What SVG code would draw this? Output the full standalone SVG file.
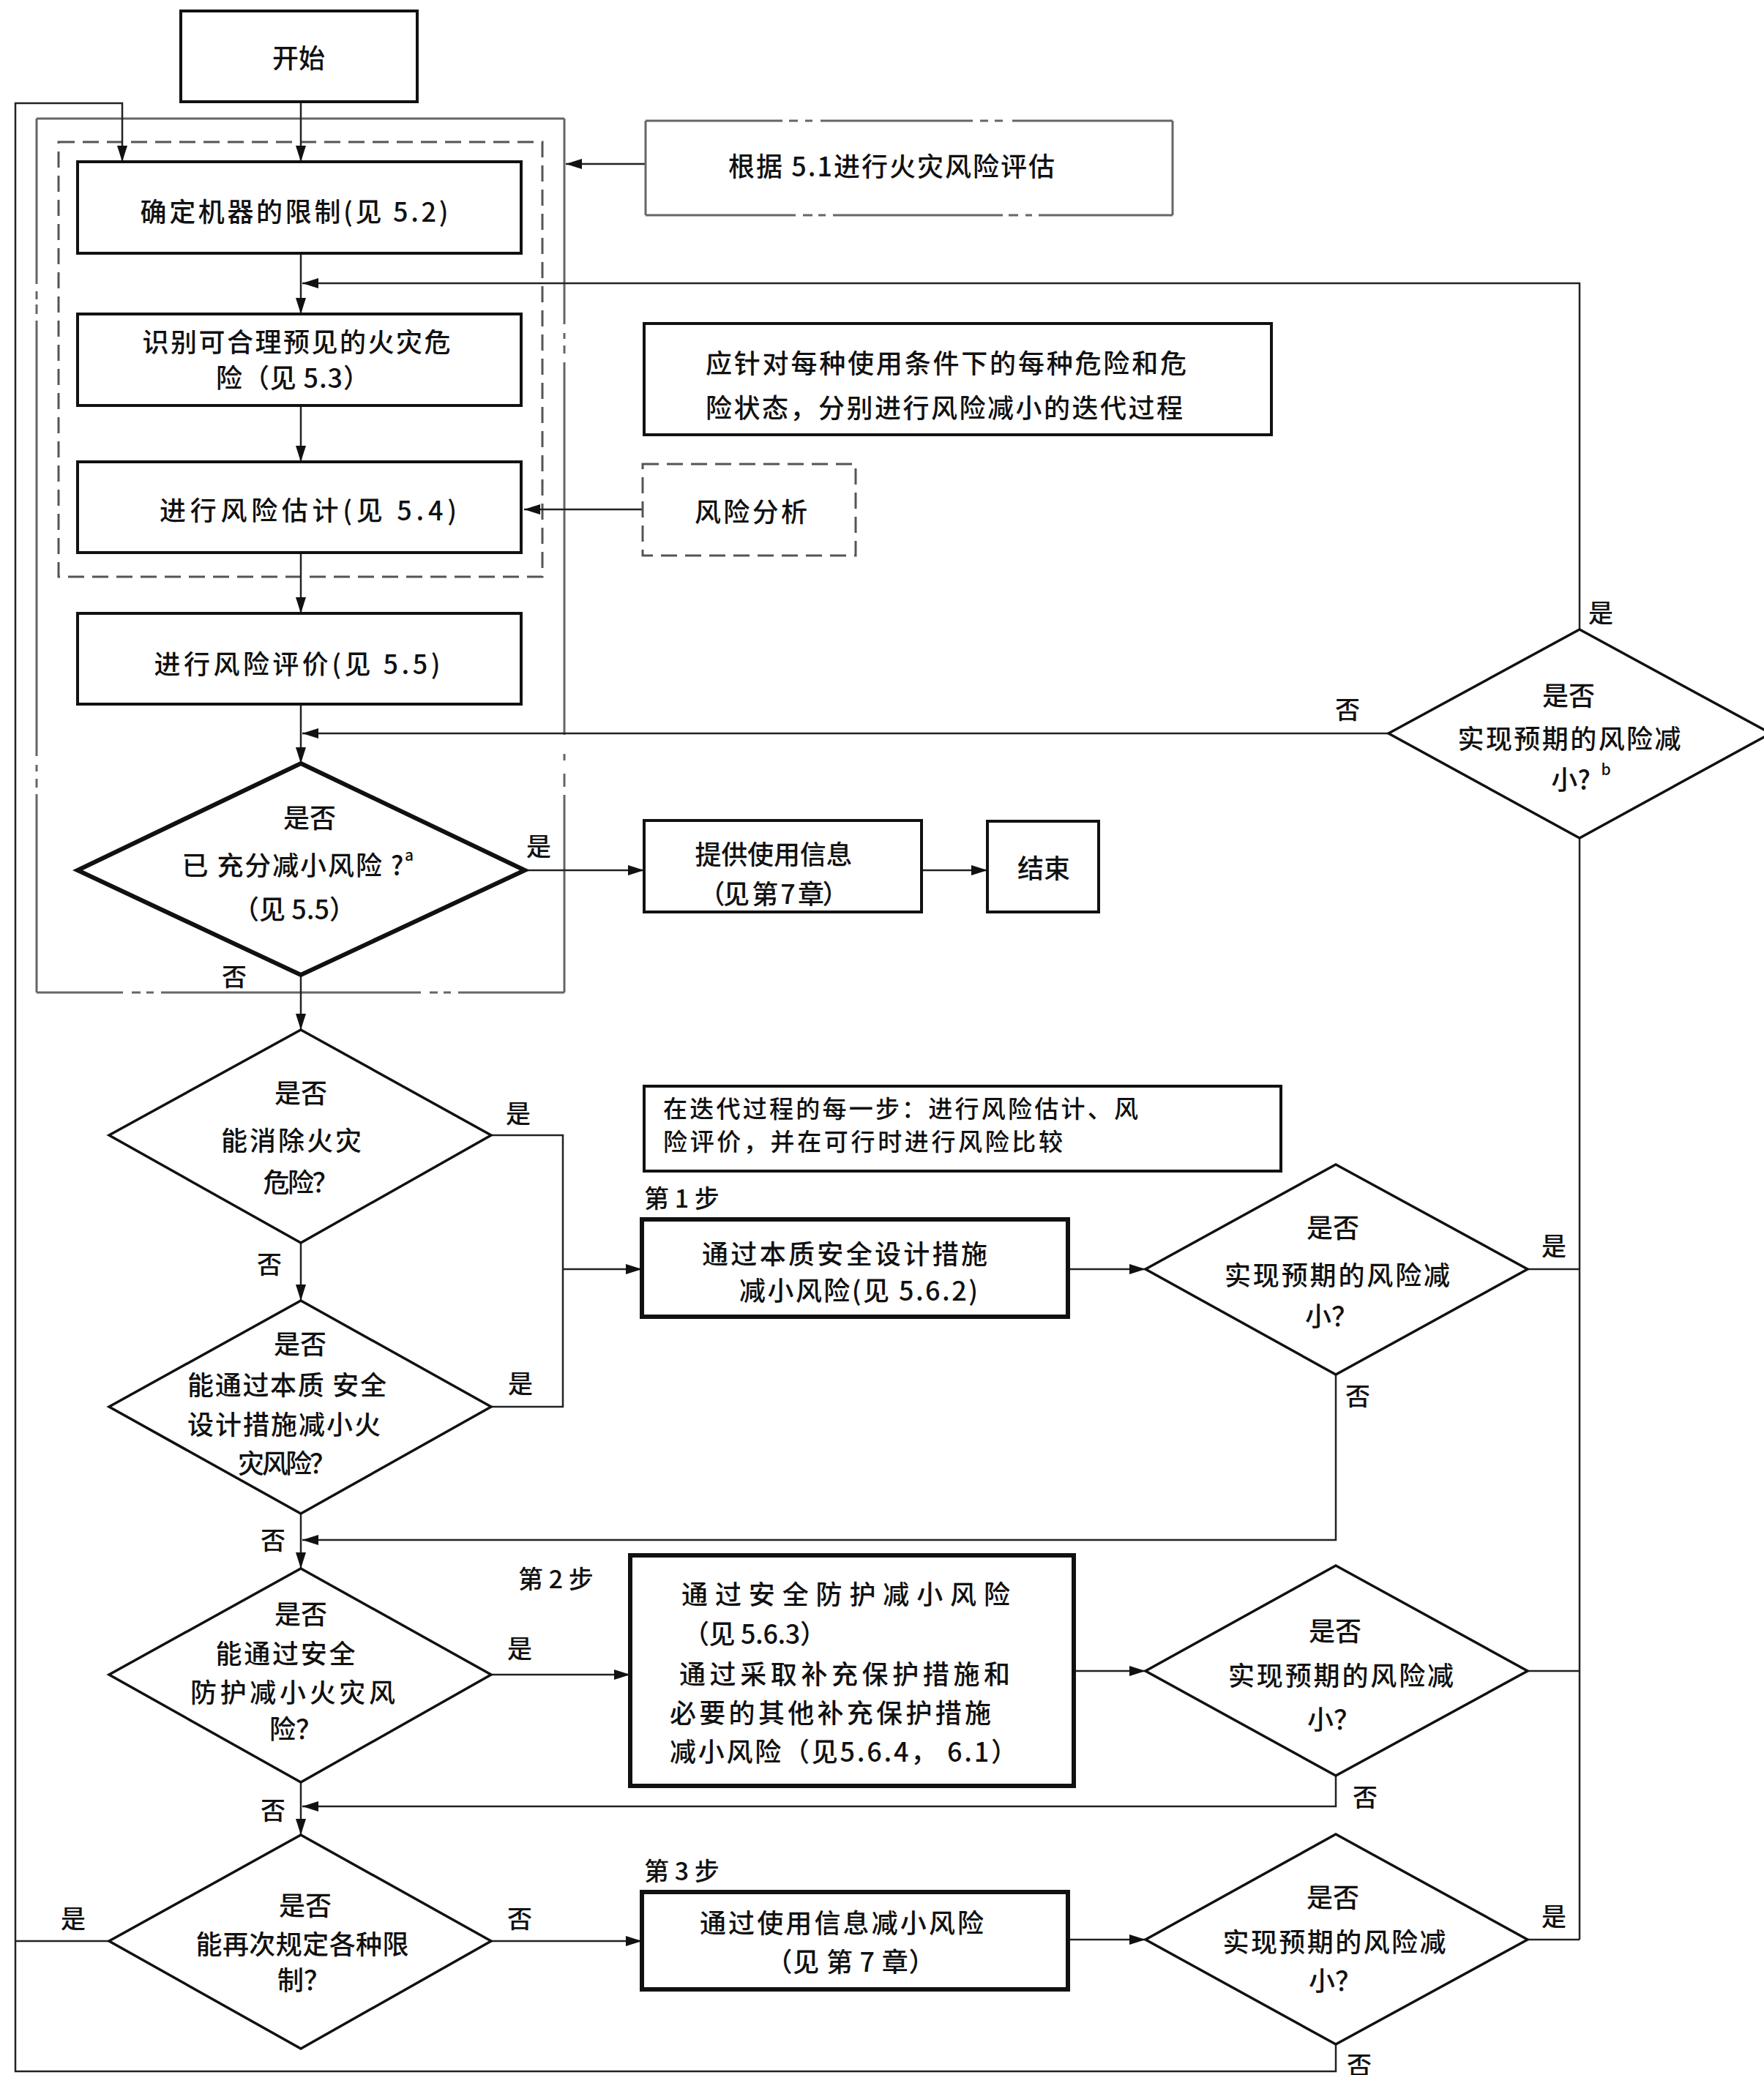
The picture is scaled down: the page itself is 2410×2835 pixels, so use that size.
<svg xmlns="http://www.w3.org/2000/svg" width="2410" height="2835" viewBox="0 0 2410 2835">
<style>
.t{font-family:"Noto Sans CJK SC","Liberation Sans",sans-serif;font-size:36px;font-weight:500;fill:#111;text-anchor:middle;dominant-baseline:central}
.s{text-anchor:start}
.l{font-size:34px}
.n{font-size:33px}
.sup{font-size:21px}
.box{fill:#fff;stroke:#111;stroke-width:4}
.thick{stroke-width:6}
.thin{stroke-width:3.5}
.conn{fill:none;stroke:#222;stroke-width:2.5}
.dash{fill:none;stroke:#555;stroke-width:3;stroke-dasharray:22 11}
.ph{fill:none;stroke:#666;stroke-width:3}
</style>
<defs>
<marker id="ah" markerUnits="userSpaceOnUse" markerWidth="24" markerHeight="14" refX="22" refY="7" orient="auto">
<path d="M0,0 L22,7 L0,14 z" fill="#111"/>
</marker>
</defs>
<rect width="2410" height="2835" fill="#fff"/>

<g id="frames">
<path class="ph" d="M50 162 H771 M50 162 V388 M50 398 V409 M50 416 V429 M50 438 V1033 M50 1045 V1054 M50 1064 V1076 M50 1085 V1356 M771 162 V443 M771 455 V463 M771 472 V483 M771 495 V1004 M771 1030 V1039 M771 1057 V1075 M771 1086 V1356 M50 1356 H168 M180 1356 H192 M200 1356 H210 M220 1356 H575 M587 1356 H598 M606 1356 H616 M626 1356 H771"/>
<rect class="dash" x="80" y="194" width="661" height="594"/>
</g>

<g id="connectors">
<path class="conn" d="M411 139 V221" marker-end="url(#ah)"/>
<path class="conn" d="M1825 2793 V2830 H21 V141 H167 V221" marker-end="url(#ah)"/>
<path class="conn" d="M149 2652 H21"/>
<path class="conn" d="M411 346 V429" marker-end="url(#ah)"/>
<path class="conn" d="M2158 860 V387 H413" marker-end="url(#ah)"/>
<path class="conn" d="M411 554 V631" marker-end="url(#ah)"/>
<path class="conn" d="M878 696 H716" marker-end="url(#ah)"/>
<path class="conn" d="M882 224 H773" marker-end="url(#ah)"/>
<path class="conn" d="M411 755 V838" marker-end="url(#ah)"/>
<path class="conn" d="M411 962 V1043" marker-end="url(#ah)"/>
<path class="conn" d="M1897 1002 H413" marker-end="url(#ah)"/>
<path class="conn" d="M717 1189 H880" marker-end="url(#ah)"/>
<path class="conn" d="M1259 1189 H1349" marker-end="url(#ah)"/>
<path class="conn" d="M411 1332 V1407" marker-end="url(#ah)"/>
<path class="conn" d="M671 1551 H769 V1922 H671"/>
<path class="conn" d="M769 1734 H877" marker-end="url(#ah)"/>
<path class="conn" d="M411 1698 V1777" marker-end="url(#ah)"/>
<path class="conn" d="M1459 1734 H1565" marker-end="url(#ah)"/>
<path class="conn" d="M2087 1734 H2158"/>
<path class="conn" d="M1825 1878 V2104 H413" marker-end="url(#ah)"/>
<path class="conn" d="M411 2068 V2143" marker-end="url(#ah)"/>
<path class="conn" d="M671 2288 H861" marker-end="url(#ah)"/>
<path class="conn" d="M1467 2283 H1565" marker-end="url(#ah)"/>
<path class="conn" d="M2087 2283 H2158"/>
<path class="conn" d="M1825 2426 V2468 H413" marker-end="url(#ah)"/>
<path class="conn" d="M411 2435 V2507" marker-end="url(#ah)"/>
<path class="conn" d="M671 2652 H877" marker-end="url(#ah)"/>
<path class="conn" d="M1459 2650 H1565" marker-end="url(#ah)"/>
<path class="conn" d="M2087 2650 H2158"/>
<path class="conn" d="M2158 1145 V2650"/>
</g>

<g id="labels">
<text class="t l" x="736" y="1154">是</text>
<text class="t l" x="320" y="1332">否</text>
<text class="t l" x="708" y="1519">是</text>
<text class="t l" x="368" y="1725">否</text>
<text class="t l" x="711" y="1888">是</text>
<text class="t l" x="373" y="2102">否</text>
<text class="t l s" x="708" y="2155">第 2 步</text>
<text class="t l" x="710" y="2250">是</text>
<text class="t l" x="373" y="2471">否</text>
<text class="t l" x="100" y="2619">是</text>
<text class="t l" x="710" y="2619">否</text>
<text class="t l s" x="880" y="1635">第 1 步</text>
<text class="t l s" x="880" y="2554">第 3 步</text>
<text class="t l" x="2123" y="1700">是</text>
<text class="t l" x="1855" y="1905">否</text>
<text class="t l" x="1865" y="2453">否</text>
<text class="t l" x="2123" y="2616">是</text>
<text class="t l" x="1857" y="2819">否</text>
<text class="t l" x="2187" y="835">是</text>
<text class="t l" x="1841" y="967">否</text>
</g>

<g id="start">
<rect class="box" x="247" y="15" width="323" height="124" stroke-width="4.5"/>
<text class="t" x="408" y="77">开始</text>
</g>

<g id="limits">
<rect class="box" x="106" y="221" width="606" height="125"/>
<text class="t" x="402" y="287" textLength="421">确定机器的限制(见 5.2)</text>
</g>

<g id="identify">
<rect class="box" x="106" y="429" width="606" height="125"/>
<text class="t" x="405" y="465" textLength="421">识别可合理预见的火灾危</text>
<text class="t" x="400" y="514" textLength="210">险（见 5.3）</text>
</g>

<g id="estimate">
<rect class="box" x="106" y="631" width="606" height="124"/>
<text class="t" x="421" y="695" textLength="406">进行风险估计(见 5.4)</text>
</g>

<g id="evaluate">
<rect class="box" x="106" y="838" width="606" height="124"/>
<text class="t" x="406" y="905" textLength="391">进行风险评价(见 5.5)</text>
</g>

<g id="assess51">
<path class="ph" d="M882 165 V294 M1602 165 V294 M882 165 H1069 M1078 165 H1090 M1100 165 H1110 M1121 165 H1329 M1339 165 H1350 M1359 165 H1370 M1383 165 H1602 M882 294 H1087 M1097 294 H1110 M1118 294 H1128 M1138 294 H1370 M1378 294 H1391 M1401 294 H1410 M1419 294 H1602"/>
<text class="t" x="1218" y="225" textLength="446">根据 5.1进行火灾风险评估</text>
</g>

<g id="iterNote">
<rect class="box" x="880" y="442" width="857" height="152" stroke-width="4.5"/>
<text class="t s" x="964" y="494" textLength="657">应针对每种使用条件下的每种危险和危</text>
<text class="t s" x="964" y="555" textLength="652">险状态，分别进行风险减小的迭代过程</text>
</g>

<g id="analysis">
<rect class="dash" x="878" y="634" width="291" height="125"/>
<text class="t" x="1026" y="697" textLength="154">风险分析</text>
</g>

<g id="d1">
<polygon class="box thick" points="411,1043 717,1189 411,1332 106,1189"/>
<text class="t" x="423" y="1115">是否</text>
<text class="t" x="400" y="1180" textLength="303">已 充分减小风险 ?</text>
<text class="t sup" x="559" y="1167">a</text>
<text class="t" x="402" y="1240" textLength="168">（见 5.5）</text>
</g>

<g id="info">
<rect class="box" x="880" y="1121" width="379" height="125"/>
<text class="t" x="1057" y="1165" textLength="215">提供使用信息</text>
<text class="t" x="1057" y="1219" textLength="205">（见 第 7 章）</text>
</g>

<g id="end">
<rect class="box" x="1349" y="1122" width="152" height="124" stroke-width="4.5"/>
<text class="t" x="1426" y="1184">结束</text>
</g>

<g id="dr0">
<polygon class="box thin" points="2158,860 2419,1002 2158,1145 1897,1002"/>
<text class="t" x="2143" y="948">是否</text>
<text class="t" x="2144" y="1007" textLength="305">实现预期的风险减</text>
<text class="t" x="2146" y="1063">小?</text>
<text class="t sup" x="2194" y="1050">b</text>
</g>

<g id="d2">
<polygon class="box thin" points="411,1407 671,1551 411,1698 149,1551"/>
<text class="t" x="411" y="1491">是否</text>
<text class="t" x="398" y="1556" textLength="192">能消除火灾</text>
<text class="t" x="411" y="1613" textLength="103">危险？</text>
</g>

<g id="stepNote">
<rect class="box" x="880" y="1484" width="870" height="116"/>
<text class="t s n" x="906" y="1513" textLength="649">在迭代过程的每一步：进行风险估计、风</text>
<text class="t s n" x="906" y="1558" textLength="546">险评价，并在可行时进行风险比较</text>
</g>

<g id="step1">
<rect class="box thick" x="877" y="1666" width="582" height="133"/>
<text class="t" x="1154" y="1711" textLength="390">通过本质安全设计措施</text>
<text class="t" x="1173" y="1761" textLength="326">减小风险(见 5.6.2)</text>
</g>

<g id="d1r">
<polygon class="box thin" points="1825,1591 2087,1734 1825,1878 1565,1734"/>
<text class="t" x="1821" y="1675">是否</text>
<text class="t" x="1827" y="1740" textLength="308">实现预期的风险减</text>
<text class="t" x="1819" y="1796">小？</text>
</g>

<g id="d3">
<polygon class="box thin" points="411,1777 671,1922 411,2068 149,1922"/>
<text class="t" x="410" y="1834">是否</text>
<text class="t" x="392" y="1890" textLength="272">能通过本质 安全</text>
<text class="t" x="388" y="1944" textLength="264">设计措施减小火</text>
<text class="t" x="392" y="1997" textLength="134">灾风险？</text>
</g>

<g id="d4">
<polygon class="box thin" points="411,2143 671,2288 411,2435 149,2288"/>
<text class="t" x="411" y="2203">是否</text>
<text class="t" x="390" y="2257" textLength="191">能通过安全</text>
<text class="t" x="400" y="2310" textLength="280">防护减小火灾风</text>
<text class="t" x="404" y="2360">险？</text>
</g>

<g id="step2">
<rect class="box thick" x="861" y="2125" width="606" height="315"/>
<text class="t s" x="931" y="2176" textLength="449">通过安全防护减小风险</text>
<text class="t s" x="933" y="2230" textLength="196">（见 5.6.3）</text>
<text class="t s" x="928" y="2285" textLength="452">通过采取补充保护措施和</text>
<text class="t s" x="915" y="2338" textLength="439">必要的其他补充保护措施</text>
<text class="t s" x="915" y="2391" textLength="475">减小风险（见5.6.4， 6.1）</text>
</g>

<g id="d2r">
<polygon class="box thin" points="1825,2139 2087,2283 1825,2426 1565,2283"/>
<text class="t" x="1824" y="2226">是否</text>
<text class="t" x="1832" y="2287" textLength="308">实现预期的风险减</text>
<text class="t" x="1822" y="2347">小？</text>
</g>

<g id="d5">
<polygon class="box thin" points="411,2507 671,2652 411,2799 149,2652"/>
<text class="t" x="417" y="2601">是否</text>
<text class="t" x="413" y="2654" textLength="291">能再次规定各种限</text>
<text class="t" x="415" y="2703">制？</text>
</g>

<g id="step3">
<rect class="box thick" x="877" y="2585" width="582" height="133"/>
<text class="t" x="1150" y="2625" textLength="388">通过使用信息减小风险</text>
<text class="t" x="1162" y="2678" textLength="231">（见 第 7 章）</text>
</g>

<g id="d3r">
<polygon class="box thin" points="1825,2506 2087,2650 1825,2793 1565,2650"/>
<text class="t" x="1821" y="2590">是否</text>
<text class="t" x="1823" y="2651" textLength="305">实现预期的风险减</text>
<text class="t" x="1824" y="2704">小？</text>
</g>
</svg>
